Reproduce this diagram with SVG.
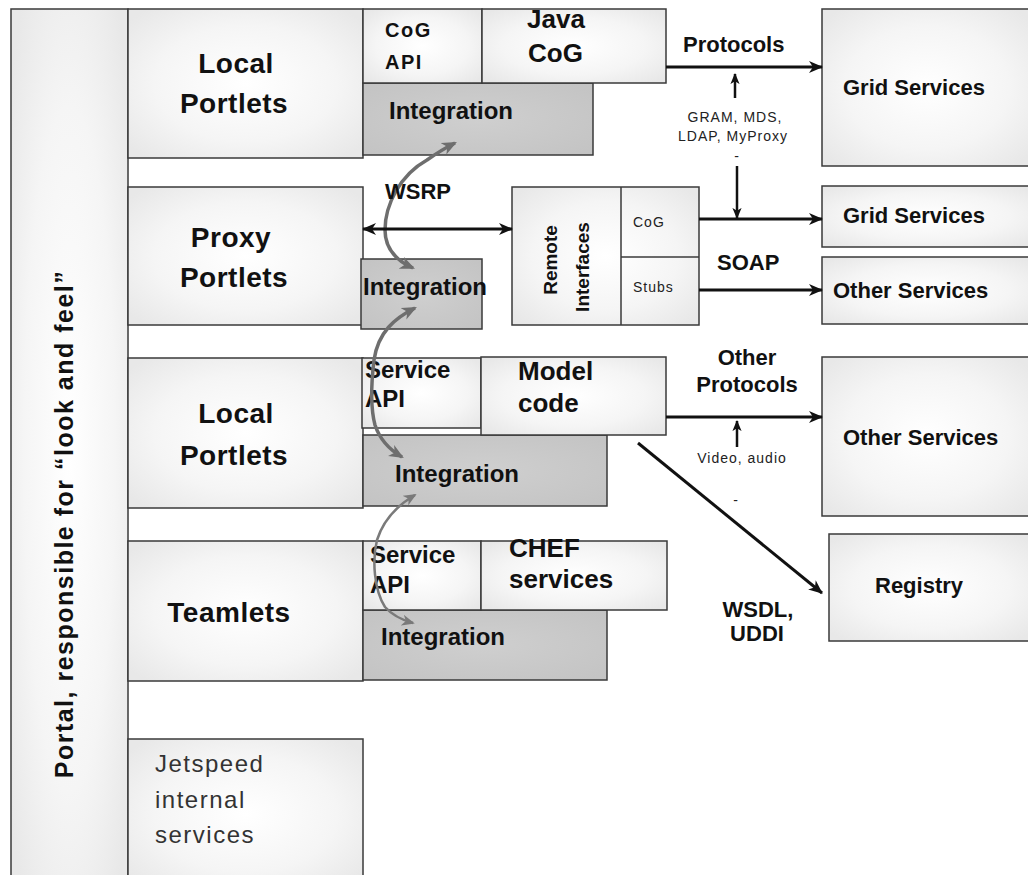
<svg xmlns="http://www.w3.org/2000/svg" width="1028" height="875" viewBox="0 0 1028 875">
<defs>
<radialGradient id="lg" cx="50%" cy="50%" r="65%">
<stop offset="0" stop-color="#ffffff"/>
<stop offset="0.6" stop-color="#f5f5f5"/>
<stop offset="1" stop-color="#e8e8e8"/>
</radialGradient>
<radialGradient id="ig" cx="50%" cy="50%" r="70%">
<stop offset="0" stop-color="#cfcfcf"/>
<stop offset="1" stop-color="#c3c3c3"/>
</radialGradient>
<marker id="ah" viewBox="0 0 14 12" refX="13" refY="6" markerWidth="15" markerHeight="12" markerUnits="userSpaceOnUse" orient="auto-start-reverse">
<path d="M0,0 L14,6 L0,12 L4,6 z" fill="#111"/>
</marker>
<marker id="ahs" viewBox="0 0 12 10" refX="11" refY="5" markerWidth="11" markerHeight="10" markerUnits="userSpaceOnUse" orient="auto-start-reverse">
<path d="M0,0 L12,5 L0,10 L3,5 z" fill="#111"/>
</marker>
<marker id="gh" viewBox="0 0 14 12" refX="12" refY="6" markerWidth="15" markerHeight="13" markerUnits="userSpaceOnUse" orient="auto-start-reverse">
<path d="M0,0 L14,6 L0,12 L4,6 z" fill="#6e6e6e"/>
</marker>
<marker id="gh2" viewBox="0 0 14 12" refX="12" refY="6" markerWidth="13" markerHeight="11" markerUnits="userSpaceOnUse" orient="auto-start-reverse">
<path d="M0,0 L14,6 L0,12 L4,6 z" fill="#7a7a7a"/>
</marker>
</defs>
<style>
.box{fill:url(#lg);stroke:#3a3a3a;stroke-width:1.5}
.int{fill:url(#ig);stroke:#3a3a3a;stroke-width:1.5}
.t{font-family:"Liberation Sans",Arial,sans-serif;font-weight:bold;fill:#111}
.big{font-size:28px;letter-spacing:0.5px}
.m26{font-size:26px}
.m24{font-size:24px}
.m22{font-size:22px}
.m20{font-size:20px;letter-spacing:1.5px}
.sm{font-family:"Liberation Sans",Arial,sans-serif;font-size:14px;letter-spacing:1px;fill:#222}
.jet{font-family:"Liberation Sans",Arial,sans-serif;font-size:24px;letter-spacing:1.5px;fill:#333}
.c{text-anchor:middle}
.ln{stroke:#111;stroke-width:3;fill:none}
.lns{stroke:#111;stroke-width:2.5;fill:none}
.gc{stroke:#6e6e6e;stroke-width:3.5;fill:none}
.gc2{stroke:#7a7a7a;stroke-width:2.5;fill:none}
</style>
<rect width="1028" height="875" fill="#ffffff"/>

<g id="portal">
<rect class="box" x="11" y="9" width="117" height="880"/>
<text class="t c" font-size="25" letter-spacing="1.5" transform="translate(73 524) rotate(-90)">Portal, responsible for “look and feel”</text>
</g>

<g id="local-portlets-1">
<rect class="box" x="128" y="9" width="235" height="149"/>
<text class="t big c" x="236" y="73">Local</text>
<text class="t big c" x="234" y="113">Portlets</text>
</g>
<g id="integration-1">
<rect class="int" x="363" y="83" width="230" height="72"/>
<text class="t m24" x="389" y="119">Integration</text>
</g>
<g id="cog-api">
<rect class="box" x="363" y="9" width="119" height="74"/>
<text class="t m20" x="385" y="37">CoG</text>
<text class="t m20" x="385" y="69">API</text>
</g>
<g id="java-cog">
<rect class="box" x="482" y="9" width="184" height="74"/>
<text class="t m26" x="527" y="28">Java</text>
<text class="t m26" x="528" y="62">CoG</text>
</g>

<g id="proxy-portlets">
<rect class="box" x="128" y="187" width="235" height="138"/>
<text class="t big c" x="231" y="247">Proxy</text>
<text class="t big c" x="234" y="287">Portlets</text>
</g>
<g id="integration-2">
<rect class="int" x="361" y="259" width="121" height="70"/>
<text class="t m24" x="363" y="295">Integration</text>
</g>

<g id="remote-interfaces">
<rect class="box" x="512" y="187" width="187" height="138"/>
<line x1="621" y1="187" x2="621" y2="325" stroke="#3a3a3a" stroke-width="1.5"/>
<line x1="621" y1="257" x2="699" y2="257" stroke="#3a3a3a" stroke-width="1.5"/>
<text class="t c" font-size="19" transform="translate(557 260) rotate(-90)">Remote</text>
<text class="t c" font-size="19" transform="translate(589 267) rotate(-90)">Interfaces</text>
<text class="sm" x="633" y="227" letter-spacing="0.5">CoG</text>
<text class="sm" x="633" y="292" letter-spacing="0.5">Stubs</text>
</g>

<g id="local-portlets-2">
<rect class="box" x="128" y="358" width="235" height="150"/>
<text class="t big c" x="236" y="423">Local</text>
<text class="t big c" x="234" y="465">Portlets</text>
</g>
<g id="integration-3">
<rect class="int" x="363" y="435" width="244" height="71"/>
<text class="t m24" x="395" y="482">Integration</text>
</g>
<g id="service-api-1">
<rect class="box" x="362" y="358" width="119" height="70"/>
<text class="t m24" x="365" y="378">Service</text>
<text class="t m24" x="365" y="407">API</text>
</g>
<g id="model-code">
<rect class="box" x="481" y="357" width="185" height="78"/>
<text class="t m26" x="518" y="380">Model</text>
<text class="t m26" x="518" y="412">code</text>
</g>

<g id="teamlets">
<rect class="box" x="128" y="541" width="235" height="140"/>
<text class="t big c" x="229" y="622">Teamlets</text>
</g>
<g id="integration-4">
<rect class="int" x="363" y="610" width="244" height="70"/>
<text class="t m24" x="381" y="645">Integration</text>
</g>
<g id="service-api-2">
<rect class="box" x="363" y="541" width="118" height="69"/>
<text class="t m24" x="370" y="563">Service</text>
<text class="t m24" x="370" y="593">API</text>
</g>
<g id="chef-services">
<rect class="box" x="481" y="541" width="186" height="69"/>
<text class="t m26" x="509" y="557">CHEF</text>
<text class="t m26" x="509" y="588">services</text>
</g>

<g id="jetspeed">
<rect class="box" x="128" y="739" width="235" height="150"/>
<text class="jet" x="155" y="772">Jetspeed</text>
<text class="jet" x="155" y="808">internal</text>
<text class="jet" x="155" y="843">services</text>
</g>

<g id="grid-services-1">
<rect class="box" x="822" y="9" width="210" height="157"/>
<text class="t m22" x="843" y="95">Grid Services</text>
</g>
<g id="grid-services-2">
<rect class="box" x="822" y="186" width="210" height="61"/>
<text class="t m22" x="843" y="223">Grid Services</text>
</g>
<g id="other-services-1">
<rect class="box" x="822" y="257" width="210" height="67"/>
<text class="t m22" x="833" y="298">Other Services</text>
</g>
<g id="other-services-2">
<rect class="box" x="822" y="357" width="210" height="159"/>
<text class="t m22" x="843" y="445">Other Services</text>
</g>
<g id="registry">
<rect class="box" x="829" y="534" width="203" height="107"/>
<text class="t m22" x="875" y="593">Registry</text>
</g>

<g id="connectors">
<path class="gc" d="M413,268 C395,260 385,248 385,230 C385,205 400,175 427,160 C437,153 445,148 455,143" marker-start="url(#gh)" marker-end="url(#gh)"/>
<path class="gc" d="M415,308 C395,318 378,332 374,360 C371,385 371,410 375,425 C380,440 390,450 402,457" marker-start="url(#gh)" marker-end="url(#gh)"/>
<path class="gc2" d="M415,495 C398,505 384,518 377,540 C372,560 374,590 385,607 C392,615 402,620 413,623" marker-start="url(#gh2)" marker-end="url(#gh2)"/>

<line class="ln" x1="666" y1="67" x2="822" y2="67" marker-end="url(#ah)"/>
<line class="lns" x1="735" y1="98" x2="735" y2="74" marker-end="url(#ahs)"/>
<line class="lns" x1="737" y1="166" x2="737" y2="218" marker-end="url(#ahs)"/>
<line class="ln" x1="699" y1="219" x2="822" y2="219" marker-end="url(#ah)"/>
<line class="ln" x1="699" y1="290" x2="822" y2="290" marker-end="url(#ah)"/>
<line class="ln" x1="363" y1="229" x2="512" y2="229" marker-start="url(#ah)" marker-end="url(#ah)"/>
<line class="ln" x1="666" y1="417" x2="822" y2="417" marker-end="url(#ah)"/>
<line class="lns" x1="737" y1="447" x2="737" y2="421" marker-end="url(#ahs)"/>
<line class="ln" x1="638" y1="443" x2="822" y2="593" marker-end="url(#ah)"/>

<text class="t m22" x="385" y="199">WSRP</text>
<text class="t m22" x="683" y="52">Protocols</text>
<text class="sm c" x="735" y="122">GRAM, MDS,</text>
<text class="sm c" x="733" y="141">LDAP, MyProxy</text>
<text class="sm c" x="737" y="161">-</text>
<text class="t m22" x="717" y="270">SOAP</text>
<text class="t m22 c" x="747" y="365">Other</text>
<text class="t m22 c" x="747" y="392">Protocols</text>
<text class="sm c" x="742" y="463">Video, audio</text>
<text class="sm c" x="736" y="505">-</text>
<text class="t m22 c" x="758" y="617">WSDL,</text>
<text class="t m22 c" x="757" y="641">UDDI</text>
</g>
</svg>
